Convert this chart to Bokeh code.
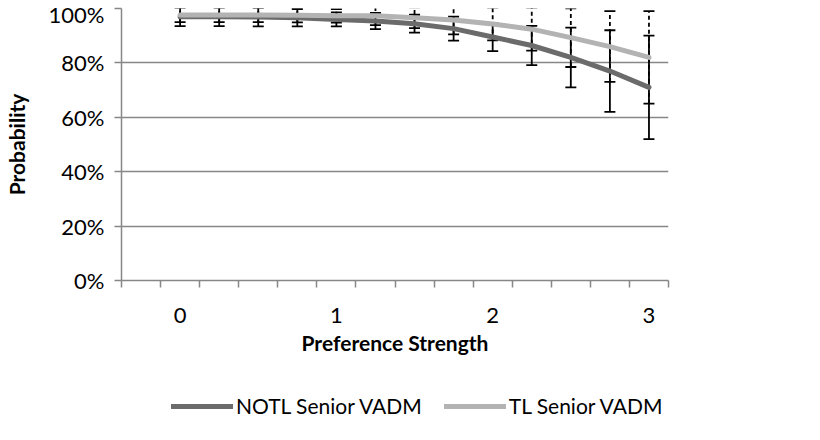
from bokeh.plotting import figure
from bokeh.layouts import column
from bokeh.models import FixedTicker, Legend, LegendItem, NumeralTickFormatter, Range1d, ColumnDataSource
from bokeh.embed import file_html
from bokeh.resources import INLINE

# ---- data ----
strength = [0, 0.25, 0.5, 0.75, 1.0, 1.25, 1.5, 1.75, 2.0, 2.25, 2.5, 2.75, 3.0]
notl = [0.970, 0.970, 0.969, 0.966, 0.960, 0.954, 0.944, 0.926, 0.895, 0.864, 0.820, 0.770, 0.710]
notl_err = [0.035, 0.035, 0.035, 0.032, 0.026, 0.030, 0.033, 0.044, 0.052, 0.072, 0.110, 0.150, 0.190]
tl = [0.976, 0.976, 0.976, 0.975, 0.973, 0.973, 0.966, 0.958, 0.943, 0.924, 0.893, 0.860, 0.820]
tl_err = [0.026, 0.026, 0.026, 0.026, 0.025, 0.034, 0.038, 0.053, 0.060, 0.079, 0.108, 0.130, 0.170]
x_ticks = [0, 1, 2, 3]
y_ticks = [0, 0.2, 0.4, 0.6, 0.8, 1.0]
series_names = ["NOTL Senior VADM", "TL Senior VADM"]
series_colors = ["#6b6b6b", "#b3b3b3"]

FONT = "Lato"
GRID = "#878787"

# category slots: one empty slot before the first value
step = strength[1] - strength[0]
x_min = strength[0] - 1.5 * step
x_max = strength[-1] + 0.5 * step
boundaries = [x_min + i * step for i in range(len(strength) + 2)]

src_n = ColumnDataSource(dict(x=strength, y=notl,
                              lo=[v - e for v, e in zip(notl, notl_err)],
                              hi=[v + e for v, e in zip(notl, notl_err)]))
src_t = ColumnDataSource(dict(x=strength, y=tl,
                              lo=[v - e for v, e in zip(tl, tl_err)],
                              hi=[v + e for v, e in zip(tl, tl_err)]))

p = figure(width=804, height=357, output_backend="svg", toolbar_location=None,
           x_range=Range1d(x_min, x_max), y_range=Range1d(0, 1),
           min_border_left=117, min_border_right=136, min_border_top=8, min_border_bottom=0)
p.outline_line_color = None
p.background_fill_color = "white"

# axes
p.yaxis.ticker = FixedTicker(ticks=y_ticks)
p.yaxis.formatter = NumeralTickFormatter(format="0%")
p.yaxis.major_tick_out = 7
p.yaxis.major_tick_in = 0
p.yaxis.minor_tick_line_color = None
p.yaxis.major_label_standoff = 10
p.yaxis.axis_label = "Probability"
p.yaxis.axis_label_standoff = 17

p.xaxis.ticker = FixedTicker(ticks=x_ticks, minor_ticks=boundaries)
p.xaxis.major_tick_out = 7
p.xaxis.major_tick_in = 0
p.xaxis.major_tick_line_color = None
p.xaxis.minor_tick_out = 7
p.xaxis.minor_tick_in = 0
p.xaxis.minor_tick_line_color = GRID
p.xaxis.minor_tick_line_width = 1.5
p.xaxis.major_label_standoff = 20
p.xaxis.axis_label = "Preference Strength"
p.xaxis.axis_label_standoff = 4

for ax in (p.xaxis, p.yaxis):
    ax.axis_line_color = GRID
    ax.axis_line_width = 1.5
    ax.major_tick_line_width = 1.5
    ax.major_label_text_font = FONT
    ax.major_label_text_font_size = "22px"
    ax.major_label_text_color = "black"
    ax.axis_label_text_font = FONT
    ax.axis_label_text_font_size = "21px"
    ax.axis_label_text_font_style = "bold"
    ax.axis_label_text_color = "black"
p.yaxis.major_tick_line_color = GRID

p.xgrid.visible = False
p.ygrid.ticker = FixedTicker(ticks=y_ticks)
p.ygrid.grid_line_color = GRID
p.ygrid.grid_line_width = 1.5

# error bars
p.segment(x0="x", y0="lo", x1="x", y1="hi", source=src_n, line_color="black", line_width=1.8)
p.segment(x0="x", y0="lo", x1="x", y1="hi", source=src_t, line_color="black", line_width=1.8,
          line_dash="4 3")
for s in (src_n, src_t):
    p.dash(x="x", y="lo", source=s, size=11, line_color="black", line_width=1.8)
    p.dash(x="x", y="hi", source=s, size=11, line_color="black", line_width=1.8)

# lines
for s, c in ((src_n, series_colors[0]), (src_t, series_colors[1])):
    p.line(x="x", y="y", source=s, line_color=c, line_width=5,
           line_cap="round", line_join="round")

# legend strip below the chart (its lines lie outside the strip's visible range)
q = figure(width=804, height=67, output_backend="svg", toolbar_location=None,
           x_axis_type=None, y_axis_type=None,
           x_range=Range1d(x_min, x_max), y_range=Range1d(2, 3),
           min_border_left=117, min_border_right=136, min_border_top=0, min_border_bottom=0)
q.outline_line_color = None
q.xgrid.visible = False
q.ygrid.visible = False
items = []
for s, name, c in ((src_n, series_names[0], series_colors[0]), (src_t, series_names[1], series_colors[1])):
    r = q.line(x="x", y="y", source=s, line_color=c, line_width=5, line_cap="round")
    items.append(LegendItem(label=name, renderers=[r]))
legend = Legend(items=items, location=(50, 6), orientation="horizontal")
legend.border_line_color = None
legend.background_fill_alpha = 0
legend.padding = 0
legend.margin = 0
legend.spacing = 22
legend.glyph_width = 62
legend.glyph_height = 20
legend.label_standoff = 3
legend.label_text_font = FONT
legend.label_text_font_size = "21px"
legend.label_text_color = "black"
q.add_layout(legend)

open("out.html", "w").write(file_html(column(p, q, spacing=0), INLINE))
